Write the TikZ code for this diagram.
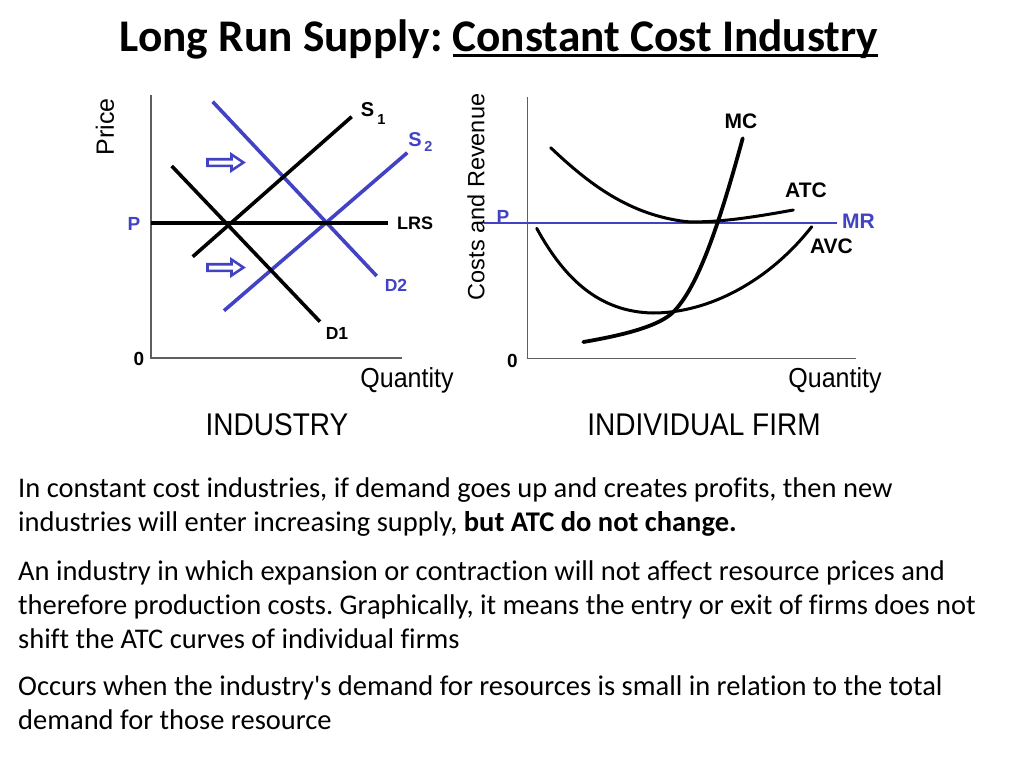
\documentclass[tikz,border=0pt]{standalone}
\usepackage{fontspec}
\setmainfont{Carlito}[Ligatures={NoCommon}]
\newfontfamily\arialf{Liberation Sans}
\newsavebox\ttlbox
\frenchspacing
\definecolor{gblue}{RGB}{66,66,196}
\definecolor{axgray}{RGB}{95,95,95}
\tikzset{
  axis/.style={draw=axgray, line width=1.5pt},
  lineK/.style={draw=black, line width=3.6pt},
  lineB/.style={draw=gblue, line width=3.6pt},
  curveK/.style={draw=black, line width=3pt, line cap=round},
  mcurve/.style={draw=black, line width=3.8pt, line cap=round},
  mrline/.style={draw=gblue, line width=1.8pt},
  lbl/.style={font=\arialf\bfseries\fontsize{18}{18}\selectfont, inner sep=0pt},
  flbl/.style={font=\arialf\bfseries\fontsize{21}{21}\selectfont, inner sep=0pt},
  axlbl/.style={font=\arialf\fontsize{25}{25}\selectfont, inner sep=0pt},
  qlbl/.style={font=\arialf\fontsize{25}{25}\selectfont, inner sep=0pt, yscale=1.1},
  captn/.style={font=\arialf\fontsize{28}{28}\selectfont, inner sep=0pt, yscale=1.12},
  body/.style={font=\fontsize{28.5}{28.5}\selectfont, inner sep=0pt, anchor=base west},
  blockarrow/.pic={
    \draw[gblue, line width=2.6pt, fill=white, line join=miter]
      (-18,-3.3) -- (6,-3.3) -- (6,-8) -- (18,0) -- (6,8) -- (6,3.3) -- (-18,3.3) -- cycle;
  }
}
\begin{document}
\begin{tikzpicture}[x=1pt,y=-1pt]
\useasboundingbox (0,0) rectangle (1024,768);

% ---------- title ----------
\node[font=\bfseries\fontsize{45.3}{45.3}\selectfont, inner sep=0pt, anchor=base] (title) at (499,52)
  {Long Run Supply: \sbox\ttlbox{Constant Cost Industry}\rlap{\rule[-5pt]{\wd\ttlbox}{2.6pt}}\usebox\ttlbox};

% ---------- industry graph ----------
\coordinate (oL) at (151,358);
\coordinate (yL) at (151,95);
\coordinate (xL) at (402,358);
\draw[axis] (yL) -- (oL) -- (xL);

\coordinate (lrsA) at (151,222.7);
\coordinate (lrsB) at (388,222.7);
\coordinate (s1A) at (192.7,256.7);
\coordinate (s1B) at (351.7,116.7);
\coordinate (s2A) at (224,310.7);
\coordinate (s2B) at (407.3,152.7);
\coordinate (d1A) at (171.7,166);
\coordinate (d1B) at (320,321.7);
\coordinate (d2A) at (212.7,101.7);
\coordinate (d2B) at (376.7,276);

\draw[lineB] (d2A) -- (d2B);
\draw[lineB] (s2A) -- (s2B);
\draw[lineK] (s1A) -- (s1B);
\draw[lineK] (d1A) -- (d1B);
\draw[lineK] (lrsA) -- (lrsB);

\pic at (225.5,162.5) {blockarrow};
\pic at (225.5,267.5) {blockarrow};

\node[axlbl, rotate=90] (price) at (105,127) {Price};
\node[lbl, font=\arialf\bfseries\fontsize{19}{19}\selectfont] (zeroL) at (139,359) {0};
\node[lbl, text=gblue, font=\arialf\bfseries\fontsize{19}{19}\selectfont] (pL) at (134,223.5) {P};
\node[lbl] (lrs) at (415,223.5) {LRS};
\node[lbl, font=\arialf\bfseries\fontsize{20}{20}\selectfont] (s1) at (367.5,110) {S};
\node[lbl, font=\arialf\bfseries\fontsize{14.5}{14.5}\selectfont] (s1sub) at (381.5,120) {1};
\node[lbl, text=gblue, font=\arialf\bfseries\fontsize{20}{20}\selectfont] (s2) at (415,140) {S};
\node[lbl, text=gblue, font=\arialf\bfseries\fontsize{14.5}{14.5}\selectfont] (s2sub) at (428.5,146.5) {2};
\node[lbl, text=gblue, font=\arialf\bfseries\fontsize{17.5}{17.5}\selectfont] (d2) at (396,285) {D2};
\node[lbl, font=\arialf\bfseries\fontsize{17.5}{17.5}\selectfont] (d1) at (337,333.5) {D1};
\node[qlbl] (qL) at (407,380) {Quantity};
\node[captn] (ind) at (277,425) {INDUSTRY};

% ---------- firm graph ----------
\coordinate (oR) at (527.7,358.3);
\coordinate (yR) at (527.7,97);
\coordinate (xR) at (856,358.3);
\draw[axis] (yR) -- (oR) -- (xR);

\coordinate (mrA) at (484,222.7);
\coordinate (mrB) at (837,222.7);
\draw[mrline] (mrA) -- (mrB);

\coordinate (atcA) at (550.7,147.7);
\coordinate (atcM) at (686.7,221.7);
\coordinate (atcB) at (793.3,210);
\draw[curveK] (atcA) .. controls (590,185) and (630,215) .. (atcM)
  .. controls (720,223) and (760,216) .. (atcB);

\coordinate (avcA) at (536.7,228.3);
\coordinate (avcM) at (653,313);
\coordinate (avcB) at (811.7,226.7);
\draw[curveK] (avcA) .. controls (565,280) and (600,312) .. (avcM)
  .. controls (710,313) and (770,280) .. (avcB);

\coordinate (mcA) at (583.3,342);
\coordinate (mcM) at (673.3,312);
\coordinate (mcB) at (742.7,138.3);
\draw[mcurve] (mcA) .. controls (630,334) and (660,325) .. (mcM)
  .. controls (695,290) and (715,240) .. (mcB);

\node[axlbl, rotate=90, font=\arialf\fontsize{23.5}{23.5}\selectfont] (cr) at (476,197) {Costs and Revenue};
\node[lbl, font=\arialf\bfseries\fontsize{19}{19}\selectfont] (zeroR) at (512.5,360.5) {0};
\node[lbl, text=gblue, font=\arialf\bfseries\fontsize{19}{19}\selectfont] (pR) at (503,217) {P};
\node[flbl] (mc) at (741,121.5) {MC};
\node[flbl] (atc) at (806,190) {ATC};
\node[flbl, text=gblue] (mr) at (858.5,221.5) {MR};
\node[flbl] (avc) at (831.5,246.5) {AVC};
\node[qlbl] (qR) at (835,380) {Quantity};
\node[captn] (firm) at (704,425) {INDIVIDUAL FIRM};

% ---------- body text ----------
\node[body] (t1) at (18,497) {In constant cost industries, if demand goes up and creates profits, then new};
\node[body] (t2) at (18,531) {industries will enter increasing supply, \textbf{but ATC do not change.}};
\node[body] (t3) at (18,580) {An industry in which expansion or contraction will not affect resource prices and};
\node[body] (t4) at (18,614) {therefore production costs. Graphically, it means the entry or exit of firms does not};
\node[body] (t5) at (18,648) {shift the ATC curves of individual firms};
\node[body] (t6) at (18,695) {Occurs when the industry\textquotesingle s demand for resources is small in relation to the total};
\node[body] (t7) at (18,729) {demand for those resource};
\end{tikzpicture}
\end{document}
